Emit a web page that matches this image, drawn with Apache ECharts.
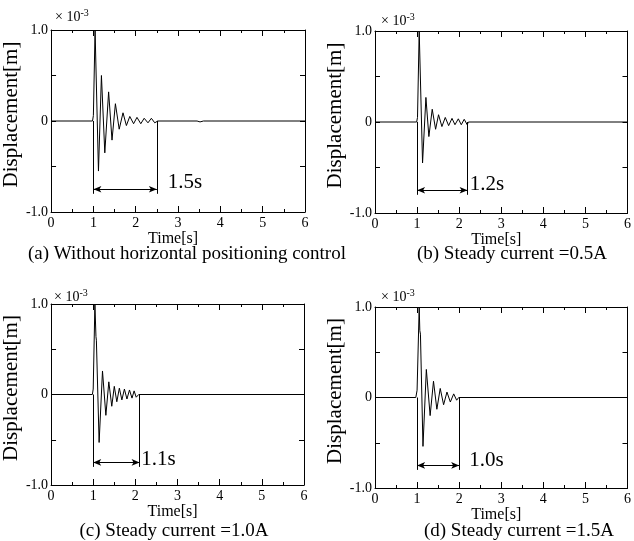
<!DOCTYPE html>
<html><head><meta charset="utf-8">
<script src="https://cdn.jsdelivr.net/npm/echarts@6/dist/echarts.min.js"></script>
<style>html,body{margin:0;padding:0;background:#fff}#c{width:634px;height:541px}</style>
</head><body><div id="c"></div>
<script>
// ---- data ----
const yTickValues = [-1, 0, 1];
const yTickText = ['-1.0', '0', '1.0'];

// (a) Without horizontal positioning control
const tA = [0, 0.98, 1.00, 1.04, 1.12, 1.19, 1.27, 1.36, 1.44, 1.52, 1.61, 1.70, 1.78, 1.86, 1.95, 2.03, 2.12, 2.20, 2.29, 2.37, 2.45, 2.52, 3.45, 3.52, 3.60, 6];
const dA = [0, 0, 0.06, 1.0, -0.55, 0.50, -0.35, 0.32, -0.21, 0.19, -0.09, 0.09, -0.05, 0.05, -0.03, 0.04, -0.03, 0.03, -0.02, 0.03, -0.02, 0, 0, -0.01, 0, 0];
// (b) Steady current = 0.5A
const tB = [0, 0.99, 1.01, 1.05, 1.13, 1.21, 1.28, 1.36, 1.44, 1.51, 1.59, 1.67, 1.75, 1.83, 1.90, 1.98, 2.05, 2.12, 2.19, 2.22, 6];
const dB = [0, 0, 0.05, 1.0, -0.45, 0.27, -0.16, 0.14, -0.08, 0.08, -0.05, 0.05, -0.04, 0.04, -0.03, 0.035, -0.03, 0.03, -0.03, 0, 0];
// (c) Steady current = 1.0A
const tC = [0, 0.98, 1.00, 1.04, 1.065, 1.075, 1.14, 1.22, 1.30, 1.37, 1.44, 1.50, 1.56, 1.62, 1.68, 1.74, 1.80, 1.86, 1.92, 1.97, 2.02, 2.08, 6];
const dC = [0, 0, 0.06, 1.0, 0.64, 0.60, -0.53, 0.26, -0.23, 0.14, -0.13, 0.09, -0.08, 0.07, -0.06, 0.06, -0.05, 0.05, -0.04, 0.04, -0.03, 0, 0];
// (d) Steady current = 1.5A
const tD = [0, 0.97, 1.00, 1.05, 1.065, 1.08, 1.14, 1.22, 1.31, 1.39, 1.47, 1.55, 1.63, 1.71, 1.79, 1.87, 1.94, 1.99, 6];
const dD = [0, 0, 0.08, 1.0, 0.74, 0.70, -0.54, 0.31, -0.20, 0.18, -0.13, 0.10, -0.08, 0.06, -0.05, 0.04, -0.03, 0, 0];

const spanStart = [1, 1, 1, 1];
const spanEnd = [2.5, 2.2, 2.1, 2.0];
const spanLabel = ['1.5s', '1.2s', '1.1s', '1.0s'];
const spanLabelX = [2.76, 2.25, 2.14, 2.24];
const spanLabelY = [-0.68, -0.69, -0.72, -0.70];
const bracketBottom = [-0.8, -0.8, -0.8, -0.8];
const arrowLevel = [-0.75, -0.75, -0.75, -0.75];
const captions = ['(a) Without horizontal positioning control', '(b) Steady current =0.5A', '(c) Steady current =1.0A', '(d) Steady current =1.5A'];
const xName = 'Time[s]';
const yName = 'Displacement[m]';

// ---- layout ----
const FONT = '"Liberation Serif", "Times New Roman", serif';
const grids = [
  {left: 49, top: 30, width: 256, height: 182},
  {left: 375, top: 31, width: 255, height: 182},
  {left: 48, top: 304, width: 256, height: 181},
  {left: 375, top: 307, width: 255, height: 181}
];
const xNameGap = [16, 16, 19, 16];
const yNameGap = [21, 19, 20, 19];
const expOffset = [13, 10, 7, 10];
const captionPos = [[187, 254], [512, 254], [174, 531], [519, 531]];
const times = [tA, tB, tC, tD];
const disps = [dA, dB, dC, dD];

const black = '#000';
const xAxes = [], yAxes = [], series = [], graphics = [];
grids.forEach((g, i) => {
  const tickStyle = {color: black, width: 1};
  const baseX = {
    gridIndex: i, type: 'value', min: 0, max: 6, interval: 1,
    axisLine: {show: true, onZero: false, lineStyle: {color: black, width: 1}},
    axisTick: {show: true, inside: true, length: 6, lineStyle: tickStyle},
    minorTick: {show: true, splitNumber: 2, length: 3, lineStyle: tickStyle},
    splitLine: {show: false}, minorSplitLine: {show: false}
  };
  xAxes.push(Object.assign({}, baseX, {
    position: 'bottom',
    axisLabel: {color: black, fontFamily: FONT, fontSize: 14, margin: 4},
    name: xName, nameLocation: 'middle', nameGap: xNameGap[i],
    nameTextStyle: {color: black, fontFamily: FONT, fontSize: 16, padding: [0, 10, 0, 0]}
  }));
  xAxes.push(Object.assign({}, baseX, {position: 'top', axisLabel: {show: false}}));
  const baseY = {
    gridIndex: i, type: 'value', min: -1, max: 1, interval: 0.5,
    axisLine: {show: true, onZero: false, lineStyle: {color: black, width: 1}},
    axisTick: {show: true, inside: true, length: 5, lineStyle: tickStyle},
    splitLine: {show: false}
  };
  yAxes.push(Object.assign({}, baseY, {
    position: 'left',
    axisLabel: {
      color: black, fontFamily: FONT, fontSize: 14, margin: 3,
      formatter: v => { const k = yTickValues.indexOf(v); return k >= 0 ? yTickText[k] : ''; }
    },
    name: yName, nameLocation: 'middle', nameGap: yNameGap[i],
    nameTextStyle: {color: black, fontFamily: FONT, fontSize: 21, padding: [0, 0, 0, 13]}
  }));
  yAxes.push(Object.assign({}, baseY, {position: 'right', axisLabel: {show: false}}));

  const s = spanStart[i], e = spanEnd[i];
  series.push({
    type: 'line', xAxisIndex: 2 * i, yAxisIndex: 2 * i,
    data: times[i].map((t, k) => [t, disps[i][k]]),
    showSymbol: false, symbol: 'none', animation: false, silent: true,
    lineStyle: {color: black, width: 1},
    markLine: {
      silent: true, animation: false, symbol: 'none',
      lineStyle: {color: black, width: 1, type: 'solid'},
      label: {show: false},
      data: [
        [{coord: [s, 0]}, {coord: [s, bracketBottom[i]]}],
        [{coord: [e, 0]}, {coord: [e, bracketBottom[i]]}],
        [{coord: [s, arrowLevel[i]], symbol: 'arrow', symbolSize: [5, 8]},
         {coord: [e, arrowLevel[i]], symbol: 'arrow', symbolSize: [5, 8]}]
      ]
    },
    markPoint: {
      silent: true, animation: false, symbol: 'circle', symbolSize: 0,
      itemStyle: {color: 'rgba(0,0,0,0)'},
      data: [{
        coord: [spanLabelX[i], spanLabelY[i]],
        label: {show: true, formatter: spanLabel[i], position: 'right', distance: 0,
                color: black, fontFamily: FONT, fontSize: 21}
      }]
    }
  });

  graphics.push({
    type: 'text', x: g.left + 6, y: g.top - expOffset[i], silent: true,
    style: {
      text: '{m|× 10}{s|-3}', verticalAlign: 'middle', align: 'left',
      rich: {
        m: {fontFamily: FONT, fontSize: 14, fill: black, lineHeight: 17},
        s: {fontFamily: FONT, fontSize: 10, fill: black, verticalAlign: 'top', lineHeight: 17}
      }
    }
  });
  graphics.push({
    type: 'text', x: captionPos[i][0], y: captionPos[i][1], silent: true,
    style: {text: captions[i], fontFamily: FONT, fontSize: 19, fill: black, align: 'center', verticalAlign: 'middle'}
  });
});

const chart = echarts.init(document.getElementById('c'), null, {renderer: 'canvas'});
chart.setOption({
  backgroundColor: '#fff',
  animation: false,
  grid: grids,
  xAxis: xAxes,
  yAxis: yAxes,
  series: series,
  graphic: graphics
});
</script>
</body></html>
